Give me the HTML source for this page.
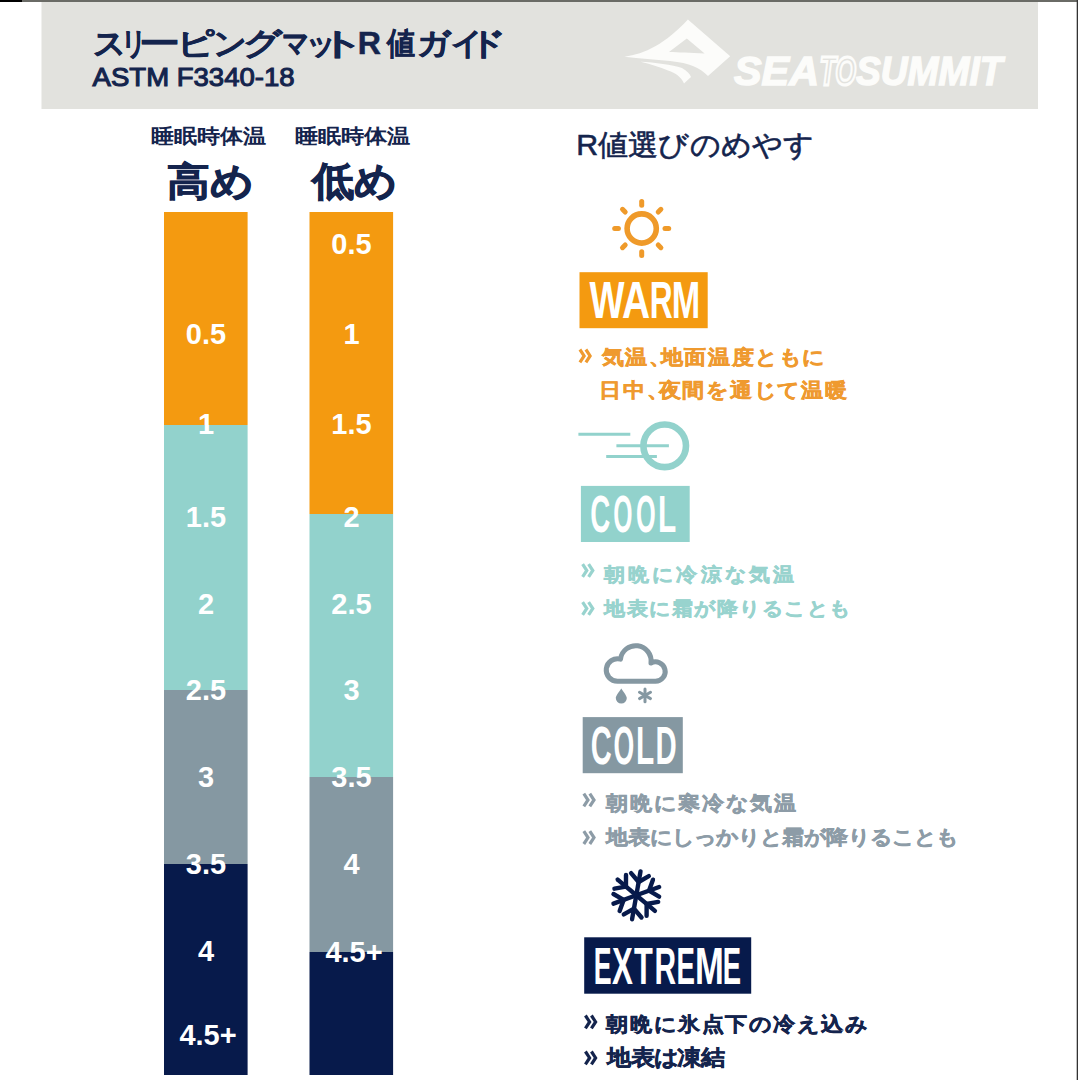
<!DOCTYPE html>
<html><head><meta charset="utf-8">
<style>
html,body{margin:0;padding:0;}
body{width:1078px;height:1080px;overflow:hidden;background:#fff;position:relative;font-family:"Liberation Sans",sans-serif;}
svg{position:absolute;left:0;top:0;}
</style></head>
<body>
<svg width="1078" height="1080" viewBox="0 0 1078 1080" font-family="Liberation Sans">

<rect x="0" y="0" width="1078" height="2" fill="#6a6b66"/>
<rect x="0" y="0" width="22" height="2" fill="#000"/>
<rect x="1076.7" y="0" width="1.3" height="1080" fill="#333"/>
<rect x="41.5" y="2" width="996.5" height="107" fill="#e2e2de"/>
<g fill="#fcfcfa">
<path d="M624.5,56.7 C645,54 665,44 687.9,19.5 L730.2,56.2 L708,76 C700,68 690,63 670,61 C655,59.5 640,58.5 624.5,56.7 Z"/>
<path d="M640.4,61.7 C655,62.5 672,64.5 682,68 C687,71 690,74 691,77 L684,83.4 C681,77 676,73 668,70.5 C660,67 650,64 640.4,61.7 Z"/>
</g>
<path d="M669,52 L686.8,38.4 L704.6,53.4 C690,52.8 678,52.5 669,52 Z" fill="#e2e2de"/>
<g font-weight="bold" font-style="italic" font-size="41" fill="#fcfcfa" stroke="#fcfcfa">
<text x="734" y="85.2" stroke-width="1.5" textLength="85" lengthAdjust="spacingAndGlyphs">SEA</text>
<text x="819.5" y="85.2" fill="none" stroke-width="3" textLength="36.5" lengthAdjust="spacingAndGlyphs">TO</text>
<text x="856" y="85.2" stroke-width="1.5" textLength="146.5" lengthAdjust="spacingAndGlyphs">SUMMIT</text>
</g>
<g fill="#14244d">
<text transform="translate(93.30,54.2) scale(1.046,1)" font-size="30.6" font-weight="bold" fill="#14244d" stroke="#14244d" stroke-width="0.5">ス</text>
<text transform="translate(120.60,54.2) scale(0.814,1)" font-size="30.6" font-weight="bold" fill="#14244d" stroke="#14244d" stroke-width="0.5">リ</text>
<text transform="translate(138.90,54.2) scale(1.324,1)" font-size="30.6" font-weight="bold" fill="#14244d" stroke="#14244d" stroke-width="0.5">ー</text>
<text transform="translate(177.38,54.2) scale(1.200,1)" font-size="30.6" font-weight="bold" fill="#14244d" stroke="#14244d" stroke-width="0.5">ピ</text>
<text transform="translate(213.32,54.2) scale(1.071,1)" font-size="30.6" font-weight="bold" fill="#14244d" stroke="#14244d" stroke-width="0.5">ン</text>
<text transform="translate(242.74,54.2) scale(1.238,1)" font-size="30.6" font-weight="bold" fill="#14244d" stroke="#14244d" stroke-width="0.5">グ</text>
<text transform="translate(282.04,54.2) scale(0.864,1)" font-size="30.6" font-weight="bold" fill="#14244d" stroke="#14244d" stroke-width="0.5">マ</text>
<text transform="translate(305.57,54.2) scale(0.943,1)" font-size="30.6" font-weight="bold" fill="#14244d" stroke="#14244d" stroke-width="0.5">ッ</text>
<text transform="translate(318.89,54.2) scale(1.448,1)" font-size="30.6" font-weight="bold" fill="#14244d" stroke="#14244d" stroke-width="0.5">ト</text>
<text transform="translate(357.86,54.2) scale(1.048,1)" font-size="30.6" font-weight="bold" fill="#14244d" stroke="#14244d" stroke-width="0.5">R</text>
<text transform="translate(387.16,54.2) scale(0.905,1)" font-size="30.6" font-weight="bold" fill="#14244d" stroke="#14244d" stroke-width="0.5">値</text>
<text transform="translate(416.53,54.2) scale(1.064,1)" font-size="30.6" font-weight="bold" fill="#14244d" stroke="#14244d" stroke-width="0.5">ガ</text>
<text transform="translate(451.26,54.2) scale(1.005,1)" font-size="30.6" font-weight="bold" fill="#14244d" stroke="#14244d" stroke-width="0.5">イ</text>
<text transform="translate(469.00,54.2) scale(1.177,1)" font-size="30.6" font-weight="bold" fill="#14244d" stroke="#14244d" stroke-width="0.5">ド</text>
<text x="92.6" y="86" font-size="26.6" font-weight="normal" stroke="#14244d" stroke-width="1.1" textLength="202" lengthAdjust="spacingAndGlyphs">ASTM F3340-18</text>
</g>
<text x="151.1" y="142.6" font-size="20.2" font-weight="bold" fill="#14244d" textLength="115.5" lengthAdjust="spacingAndGlyphs">睡眠時体温</text>
<text x="294.7" y="142.6" font-size="20.2" font-weight="bold" fill="#14244d" textLength="116.0" lengthAdjust="spacingAndGlyphs">睡眠時体温</text>
<text x="167.4" y="194.9" font-size="38.7" font-weight="bold" fill="#14244d" stroke="#14244d" stroke-width="0.8" paint-order="stroke" textLength="86.7" lengthAdjust="spacingAndGlyphs">高め</text>
<text x="311.5" y="194.7" font-size="40.2" font-weight="bold" fill="#14244d" stroke="#14244d" stroke-width="0.8" paint-order="stroke" textLength="85.5" lengthAdjust="spacingAndGlyphs">低め</text>
<rect x="164" y="212" width="83.6" height="213" fill="#f49a10"/>
<rect x="164" y="425" width="83.6" height="265" fill="#92d2cc"/>
<rect x="164" y="690" width="83.6" height="174" fill="#8598a2"/>
<rect x="164" y="864" width="83.6" height="211" fill="#071a4b"/>
<rect x="309.5" y="212" width="83.6" height="302" fill="#f49a10"/>
<rect x="309.5" y="514" width="83.6" height="263" fill="#92d2cc"/>
<rect x="309.5" y="777" width="83.6" height="175" fill="#8598a2"/>
<rect x="309.5" y="952" width="83.6" height="123" fill="#071a4b"/>
<g font-weight="bold" font-size="29" fill="#fff" text-anchor="middle">
<text x="206" y="343.6">0.5</text>
<text x="206" y="433.8">1</text>
<text x="206" y="526.8">1.5</text>
<text x="206" y="613.8">2</text>
<text x="206" y="700.2">2.5</text>
<text x="206" y="787.0">3</text>
<text x="206" y="874.0">3.5</text>
<text x="206" y="961.2">4</text>
<text x="208" y="1044.7">4.5+</text>
<text x="351.5" y="253.8">0.5</text>
<text x="351.5" y="343.6">1</text>
<text x="351.5" y="433.8">1.5</text>
<text x="351.5" y="526.8">2</text>
<text x="351.5" y="613.8">2.5</text>
<text x="351.5" y="700.2">3</text>
<text x="351.5" y="787.0">3.5</text>
<text x="351.5" y="874.0">4</text>
<text x="354.0" y="961.7">4.5+</text>
</g>
<text x="576.2" y="155.1" font-size="29.2" font-weight="normal" fill="#14244d" stroke="#14244d" stroke-width="0.6" paint-order="stroke" textLength="238.1" lengthAdjust="spacingAndGlyphs">R値選びのめやす</text>
<g stroke="#ef9a2a" fill="none" stroke-linecap="round">
<circle cx="641.7" cy="228.5" r="14.6" stroke-width="5.6"/>
<g stroke-width="5" transform="translate(641.7,228.5)">
<line x1="-23.3" y1="0" x2="-27" y2="0"/>
<line x1="23.3" y1="0" x2="27" y2="0"/>
<line x1="0" y1="-23.3" x2="0" y2="-27"/>
<line x1="0" y1="23.3" x2="0" y2="27"/>
<line x1="-16.5" y1="-16.5" x2="-19.2" y2="-19.2"/>
<line x1="16.5" y1="-16.5" x2="19.2" y2="-19.2"/>
<line x1="-16.5" y1="16.5" x2="-19.2" y2="19.2"/>
<line x1="16.5" y1="16.5" x2="19.2" y2="19.2"/>
</g></g>
<rect x="579.5" y="272.2" width="128.2" height="56" fill="#f49a10"/>
<g stroke="#92d2cc" fill="none">
<circle cx="664.7" cy="445.8" r="21.3" stroke-width="6.6"/>
<g stroke-width="3">
<line x1="578.4" y1="434.3" x2="630.3" y2="434.3"/>
<line x1="616.4" y1="445.8" x2="668.9" y2="445.8"/>
<line x1="606.2" y1="456.6" x2="656.9" y2="456.6"/>
</g></g>
<rect x="580.9" y="485.9" width="108.8" height="56.1" fill="#92d2cc"/>
<path d="M617.6,681.3 A11.3,11.3 0 1 1 620.5,659.1 A15.3,15.3 0 0 1 651,663 A9.7,9.7 0 1 1 655.5,681.3 Z" fill="none" stroke="#8598a2" stroke-width="5" stroke-linejoin="round"/>
<path d="M621.3,688.4 C618,693 615.8,696 615.8,698 A5.5,5.5 0 0 0 626.8,698 C626.8,696 624.5,693 621.3,688.4 Z" fill="#8598a2"/>
<g stroke="#8598a2" stroke-width="3" stroke-linecap="round">
<line x1="645" y1="689" x2="645" y2="701.8"/>
<line x1="639.5" y1="692.2" x2="650.5" y2="698.6"/>
<line x1="639.5" y1="698.6" x2="650.5" y2="692.2"/>
</g>
<rect x="582.7" y="717.1" width="100.1" height="56.1" fill="#8598a2"/>
<defs><g id="arm"><line x1="0" y1="0" x2="0" y2="-24.3"/><polyline points="-9,-21 0,-13.5 9,-21" fill="none"/></g></defs>
<g transform="translate(636.3,895.3) rotate(10)" stroke="#071a4b" stroke-width="4.4" stroke-linecap="round" stroke-linejoin="round" fill="none">
<use href="#arm"/><use href="#arm" transform="rotate(60)"/><use href="#arm" transform="rotate(120)"/>
<use href="#arm" transform="rotate(180)"/><use href="#arm" transform="rotate(240)"/><use href="#arm" transform="rotate(300)"/>
</g>
<rect x="584.2" y="937.3" width="167" height="56.4" fill="#071a4b"/>
<g fill="none" stroke="#ef9a2f" stroke-width="3.2" stroke-linejoin="miter"><polyline points="579.9,349.5 584.1,355.9 579.9,362.3"/><polyline points="585.9,349.5 590.1,355.9 585.9,362.3"/></g>
<text transform="scale(1.1,1)" x="547.02 568.49 589.96 600.69 622.16 643.62 665.09 686.55 708.02 729.48" y="363.94" font-size="20.40" font-weight="bold" fill="#ef9a2f" stroke="#ef9a2f" stroke-width="0.5" paint-order="stroke">気温、地面温度ともに</text>
<text transform="scale(1.1,1)" x="544.67 566.29 587.90 598.71 620.33 641.95 663.57 685.19 706.81 728.42 750.04" y="396.97" font-size="20.20" font-weight="bold" fill="#ef9a2f" stroke="#ef9a2f" stroke-width="0.5" paint-order="stroke">日中、夜間を通じて温暖</text>
<g fill="none" stroke="#98d3ce" stroke-width="3.2" stroke-linejoin="miter"><polyline points="582.6,564.1 586.8,570.5 582.6,576.9"/><polyline points="588.6,564.1 592.8,570.5 588.6,576.9"/></g>
<text transform="scale(1.1,1)" x="549.05 571.03 593.01 614.99 636.97 658.95 680.92 702.90" y="581.28" font-size="19.50" font-weight="bold" fill="#98d3ce" stroke="#98d3ce" stroke-width="0.5" paint-order="stroke">朝晩に冷涼な気温</text>
<g fill="none" stroke="#98d3ce" stroke-width="3.2" stroke-linejoin="miter"><polyline points="582.6,602.1 586.8,608.5 582.6,614.9"/><polyline points="588.6,602.1 592.8,608.5 588.6,614.9"/></g>
<text transform="scale(1.1,1)" x="549.05 569.55 590.04 610.53 631.03 651.52 672.02 692.51 713.01 733.50 753.99" y="614.68" font-size="19.50" font-weight="bold" fill="#98d3ce" stroke="#98d3ce" stroke-width="0.5" paint-order="stroke">地表に霜が降りることも</text>
<g fill="none" stroke="#8d9ca7" stroke-width="3.2" stroke-linejoin="miter"><polyline points="583.8,793.6 588.0,800.0 583.8,806.4"/><polyline points="589.8,793.6 594.0,800.0 589.8,806.4"/></g>
<text transform="scale(1.1,1)" x="551.02 572.88 594.74 616.60 638.46 660.31 682.17 704.03" y="810.34" font-size="20.40" font-weight="bold" fill="#8d9ca7" stroke="#8d9ca7" stroke-width="0.5" paint-order="stroke">朝晩に寒冷な気温</text>
<g fill="none" stroke="#8d9ca7" stroke-width="3.2" stroke-linejoin="miter"><polyline points="583.8,831.2 588.0,837.6 583.8,844.0"/><polyline points="589.8,831.2 594.0,837.6 589.8,844.0"/></g>
<text transform="scale(1.1,1)" x="551.02 571.01 590.99 610.97 630.95 650.94 670.92 690.90 710.88 730.86 750.85 770.83 790.81 810.79 830.78 850.76" y="843.74" font-size="20.40" font-weight="bold" fill="#8d9ca7" stroke="#8d9ca7" stroke-width="0.5" paint-order="stroke">地表にしっかりと霜が降りることも</text>
<g fill="none" stroke="#14244d" stroke-width="3.2" stroke-linejoin="miter"><polyline points="585.4,1015.5 589.6,1021.9 585.4,1028.3"/><polyline points="591.4,1015.5 595.6,1021.9 591.4,1028.3"/></g>
<text transform="scale(1.1,1)" x="551.02 572.71 594.40 616.09 637.79 659.48 681.17 702.86 724.55 746.24 767.93" y="1031.22" font-size="20.50" font-weight="bold" fill="#14244d" stroke="#14244d" stroke-width="0.5" paint-order="stroke">朝晩に氷点下の冷え込み</text>
<g fill="none" stroke="#14244d" stroke-width="3.2" stroke-linejoin="miter"><polyline points="585.4,1051.5 589.6,1057.9 585.4,1064.3"/><polyline points="591.4,1051.5 595.6,1057.9 591.4,1064.3"/></g>
<text transform="scale(1.1,1)" x="551.88 573.19 594.50 615.80 637.11" y="1064.68" font-size="22.10" font-weight="bold" fill="#14244d" stroke="#14244d" stroke-width="0.5" paint-order="stroke">地表は凍結</text>
<g font-weight="bold" fill="#fff" stroke="#fff" stroke-width="0.0">
<text transform="translate(589.46,318.00) scale(0.720,1)" font-size="51.60">W</text>
<text transform="translate(621.93,318.00) scale(0.754,1)" font-size="51.60">A</text>
<text transform="translate(649.68,318.00) scale(0.614,1)" font-size="51.60">R</text>
<text transform="translate(671.81,318.00) scale(0.662,1)" font-size="51.60">M</text>
<text transform="translate(590.36,532.20) scale(0.526,1)" font-size="52.62">C</text>
<text transform="translate(613.18,532.20) scale(0.470,1)" font-size="52.62">O</text>
<text transform="translate(635.96,532.20) scale(0.481,1)" font-size="52.62">O</text>
<text transform="translate(658.11,532.20) scale(0.567,1)" font-size="52.62">L</text>
<text transform="translate(590.81,763.60) scale(0.546,1)" font-size="53.20">C</text>
<text transform="translate(613.61,763.60) scale(0.501,1)" font-size="53.20">O</text>
<text transform="translate(635.91,763.60) scale(0.560,1)" font-size="53.20">L</text>
<text transform="translate(655.44,763.60) scale(0.552,1)" font-size="53.20">D</text>
<text transform="translate(593.81,984.00) scale(0.517,1)" font-size="51.74">E</text>
<text transform="translate(612.03,984.00) scale(0.604,1)" font-size="51.74">X</text>
<text transform="translate(633.95,984.00) scale(0.594,1)" font-size="51.74">T</text>
<text transform="translate(654.50,984.00) scale(0.578,1)" font-size="51.74">R</text>
<text transform="translate(676.45,984.00) scale(0.534,1)" font-size="51.74">E</text>
<text transform="translate(694.98,984.00) scale(0.669,1)" font-size="51.74">M</text>
<text transform="translate(722.76,984.00) scale(0.530,1)" font-size="51.74">E</text>
</g>
</svg>
</body></html>
